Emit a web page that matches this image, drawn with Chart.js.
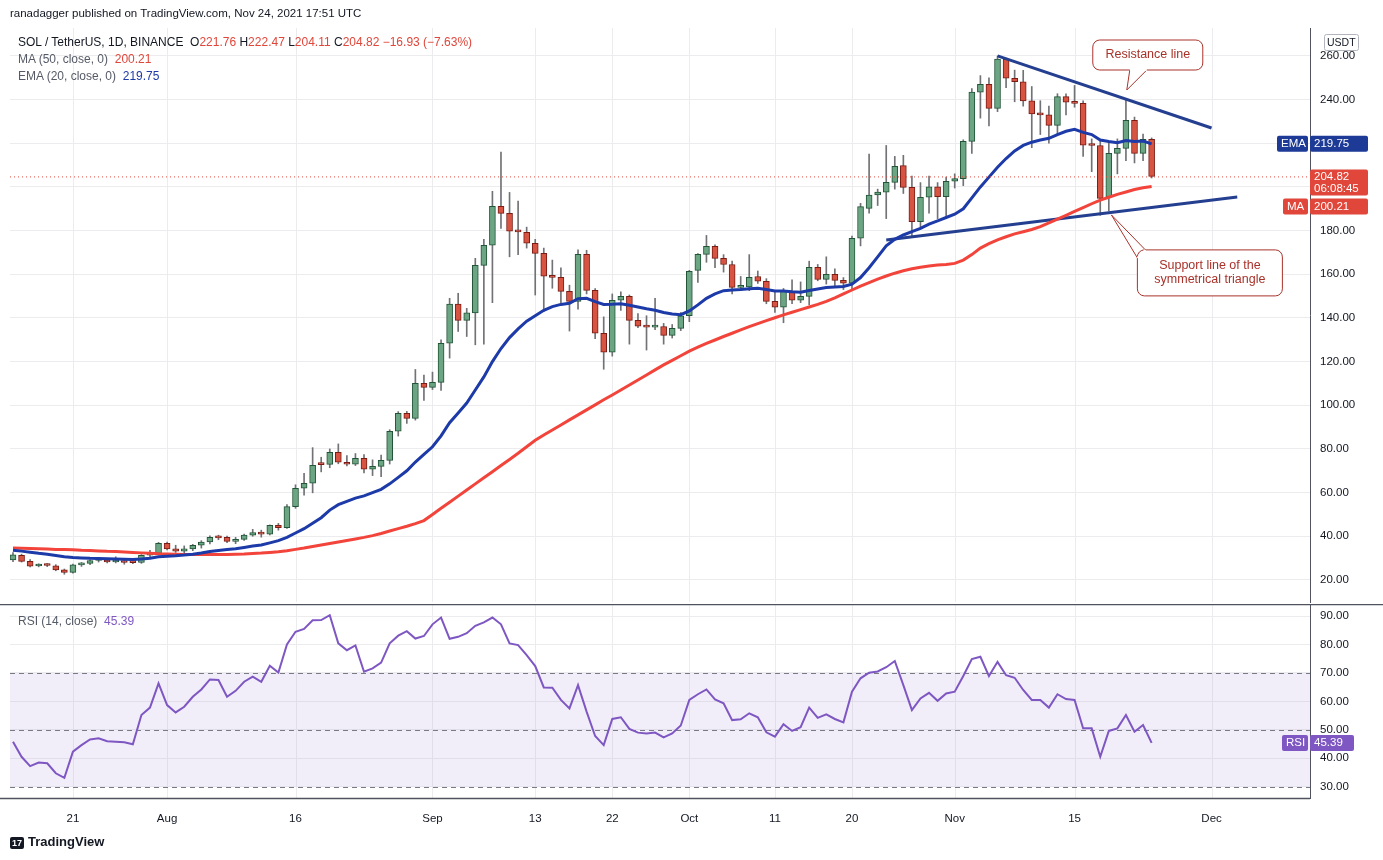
<!DOCTYPE html>
<html>
<head>
<meta charset="utf-8">
<script src="https://cdn.jsdelivr.net/npm/chart.js@4.4.0/dist/chart.umd.min.js"></script>
<style>
  body { margin: 0; background: #fff; font-family: "Liberation Sans", Arial, sans-serif; color: #131722; }
  #wrap { position: relative; width: 1383px; height: 860px; overflow: hidden; }
  canvas { position: absolute; left: 0; }
  .txt { position: absolute; font-size: 12px; white-space: nowrap; }
  .g { color: #555a66; }
  .r { color: #e0463a; }
  .b { color: #1c3aa8; }
  .p { color: #7e57c2; }
</style>
</head>
<body>
<div id="wrap">
  <canvas id="mainChart" style="top:0" width="1383" height="604"></canvas>
  <canvas id="rsiChart" style="top:604px" width="1383" height="256"></canvas>
  <div class="txt" style="left:10px;top:7px;font-size:11.5px">ranadagger published on TradingView.com, Nov 24, 2021 17:51 UTC</div>
  <div class="txt" style="left:18px;top:35px">SOL / TetherUS, 1D, BINANCE&nbsp; O<span class="r">221.76</span> H<span class="r">222.47</span> L<span class="r">204.11</span> C<span class="r">204.82</span> <span class="r">−16.93 (−7.63%)</span></div>
  <div class="txt" style="left:18px;top:52px"><span class="g">MA (50, close, 0)</span>&nbsp; <span class="r">200.21</span></div>
  <div class="txt" style="left:18px;top:69px"><span class="g">EMA (20, close, 0)</span>&nbsp; <span class="b">219.75</span></div>
  <div class="txt" style="left:18px;top:614px"><span class="g">RSI (14, close)</span>&nbsp; <span class="p">45.39</span></div>
  <div class="txt" style="left:10px;top:834px;font-size:13px;font-weight:bold"><span style="display:inline-block;background:#131722;color:#fff;font-size:9px;padding:1px 2px;border-radius:2px;margin-right:4px">17</span>TradingView</div>
</div>
<script>
// daily candles SOL/USDT, Jul 14 - Nov 24 2021
const opens = [29.2,31.3,28.5,26.4,26.7,26.5,24.6,23.5,26.9,27.6,28.9,29.0,28.2,28.3,28.0,28.0,31.3,32.2,
  36.8,34.2,33.2,34.2,35.9,37.4,39.6,39.5,37.7,38.6,40.5,41.7,41.0,45.0,44.0,53.6,62.0,64.3,73.0,72.9,78.5,73.9,73.0,75.7,70.7,72.0,74.8,88.1,96.3,94.0,110.0,
  108.2,110.5,128.4,146.4,138.9,142.3,164.1,173.3,191.1,187.9,179.7,179.2,174.2,169.6,158.9,158.6,152.2,147.6,169.1,152.6,133.0,124.3,148.1,149.9,138.9,136.2,135.8,136.1,132.0,135.2,
  141.0,161.8,169.1,172.8,167.3,164.5,154.0,154.2,159.0,156.8,147.6,144.9,152.2,148.1,149.9,163.2,157.7,160.0,157.2,155.9,176.5,190.2,196.3,197.6,202.1,209.8,199.8,184.1,195.3,200.1,195.6,
  202.6,203.8,220.9,243.4,247.0,236.0,258.6,249.8,248.2,239.4,233.2,233.0,228.2,241.4,238.8,238.3,219.1,219.0,195.4,215.4,217.7,230.5,215.4,221.76];
const highs = [32.5,31.8,29.3,27.4,27.5,27.0,25.0,27.3,28.0,29.2,29.6,29.4,30.6,28.9,29.0,31.6,33.6,37.2,
  37.4,35.9,35.6,36.3,38.0,40.2,40.5,40.1,39.5,41.0,43.2,42.8,45.2,45.9,54.5,63.6,68.8,80.6,76.2,80.0,82.3,77.0,77.9,77.4,75.0,77.2,88.8,97.1,97.2,116.4,113.8,
  115.2,130.0,149.0,151.3,144.4,167.3,176.0,198.0,216.0,197.5,193.5,181.6,176.0,172.0,166.5,163.0,155.0,171.2,171.0,153.5,140.5,151.0,152.0,150.5,142.0,141.0,149.0,137.5,137.0,142.5,
  161.8,169.5,177.8,173.5,169.0,166.0,159.0,169.0,161.5,158.0,152.0,153.5,157.5,156.5,166.0,164.5,168.0,162.5,158.5,177.5,192.5,215.0,199.0,219.0,214.0,214.5,205.0,202.0,205.0,202.0,204.5,
  206.0,221.6,245.0,251.0,250.0,259.9,259.0,253.5,253.4,246.0,239.5,237.0,242.7,242.7,246.5,239.4,222.0,221.5,220.5,222.0,240.6,232.0,224.2,222.47];
const lows = [28.4,28.2,26.0,26.0,26.1,24.2,22.6,23.1,26.2,27.0,28.2,27.8,27.8,27.2,27.4,27.6,30.7,31.8,
  33.8,32.6,32.4,33.4,34.6,36.5,38.4,37.1,36.6,38.1,40.0,39.6,40.6,42.8,43.6,52.8,58.8,59.9,69.5,71.4,73.2,72.2,72.4,69.0,67.8,67.3,73.1,85.9,91.7,93.2,102.2,
  107.2,106.8,121.6,133.8,131.5,127.7,128.0,147.0,181.0,168.0,169.0,172.0,150.5,143.0,153.6,147.0,134.0,144.0,151.0,130.5,116.5,122.5,143.5,128.0,135.5,125.3,134.6,128.0,130.8,134.2,
  138.3,156.3,165.5,163.0,161.0,151.0,153.0,152.5,155.8,146.5,142.5,137.8,146.5,147.0,146.0,157.0,155.5,154.0,153.0,153.0,173.0,188.0,191.5,185.5,199.0,197.0,177.0,181.0,188.0,185.5,185.5,
  199.5,200.6,215.3,231.5,228.0,234.5,245.5,239.0,237.0,218.0,224.0,220.0,224.0,233.0,236.5,214.0,207.0,187.0,189.0,206.0,212.0,211.0,212.0,204.11];
const closes = [31.5,28.5,26.3,26.7,26.6,24.6,23.5,26.9,27.6,28.9,29.0,28.2,28.3,28.0,27.9,31.3,32.2,36.8,
  34.2,33.2,34.2,35.9,37.4,39.5,39.3,37.7,38.6,40.5,41.7,41.0,45.0,44.0,53.6,62.0,64.3,72.5,72.8,78.5,73.9,73.0,75.7,70.7,72.0,74.8,88.1,96.3,94.0,110.0,108.2,
  110.5,128.4,146.4,138.9,142.3,164.1,173.3,191.1,187.9,179.8,179.4,174.2,169.6,159.1,158.6,152.2,147.6,169.1,152.6,133.0,124.3,148.1,149.9,138.9,136.2,135.8,136.1,132.0,135.2,141.0,
  161.3,169.1,172.8,167.3,164.5,154.0,154.2,158.6,156.8,147.6,144.9,152.2,148.1,149.9,163.2,157.7,160.0,157.2,155.9,176.5,191.0,196.3,197.6,202.1,209.5,199.8,184.1,195.3,200.1,195.6,202.6,
  203.8,220.9,243.4,247.0,236.0,258.6,249.8,248.2,239.4,233.4,233.0,228.2,241.4,238.8,238.3,219.1,219.0,194.8,215.4,217.7,230.5,215.4,221.8,204.82];
const ma50 = [34.6,34.5,34.4,34.3,34.2,34.0,33.9,33.8,33.6,33.5,33.3,33.1,33.0,32.8,32.6,32.4,32.2,32.0,
  31.9,31.8,31.7,31.6,31.6,31.6,31.6,31.7,31.8,31.9,32.1,32.3,32.6,32.9,33.4,34.0,34.6,35.3,36.0,36.7,37.4,38.1,38.8,39.5,40.3,41.3,42.4,43.5,44.6,45.8,47.2,
  50.0,52.8,55.6,58.4,61.2,64.0,66.8,69.6,72.4,75.2,78.0,81.0,84.0,86.4,88.7,91.0,93.3,95.6,97.9,100.2,102.5,104.7,107.0,109.3,111.6,113.9,116.2,118.5,120.6,122.7,
  124.8,126.6,128.3,129.9,131.5,133.0,134.5,136.0,137.4,138.8,140.1,141.4,142.6,143.8,145.0,146.2,147.6,149.2,151.0,152.8,154.6,156.2,157.8,159.2,160.5,161.6,162.5,163.2,163.8,164.2,164.5,
  165.0,166.5,169.0,172.0,174.0,175.8,177.2,178.5,179.5,180.5,181.8,183.5,185.3,187.0,188.8,190.5,192.3,194.0,195.3,196.6,197.7,198.8,199.6,200.21];
const ema20 = [33.6,33.2,32.7,32.2,31.8,31.2,30.6,30.3,30.1,29.9,29.8,29.7,29.6,29.5,29.4,29.6,29.9,30.6,
  30.9,31.1,31.4,31.8,32.3,33.0,33.5,33.9,34.3,34.9,35.5,36.0,37.0,38.0,39.5,41.5,43.5,46.0,48.5,52.0,54.5,56.0,57.5,58.5,60.0,61.5,64.0,67.0,70.0,74.0,77.5,
  81.0,86.0,92.0,96.5,101.0,107.0,113.0,120.0,126.0,131.0,135.0,138.5,141.0,143.5,145.2,146.2,146.7,148.8,149.0,147.5,146.2,146.3,146.5,145.8,145.0,144.2,143.5,142.5,141.8,141.5,
  143.2,146.0,149.0,151.0,152.5,152.8,153.0,153.4,153.6,153.0,152.3,152.3,152.0,151.8,152.6,153.3,153.9,154.2,154.4,155.5,158.5,163.0,168.0,173.0,176.0,178.0,179.5,181.0,183.0,184.5,186.0,
  187.5,190.0,195.0,200.0,204.5,209.0,213.0,216.5,219.0,220.5,221.5,222.3,224.0,225.5,226.4,225.0,224.0,221.5,220.8,220.3,221.3,220.8,221.0,219.75];
const rsi = [45.8,40.5,37.2,38.5,38.2,34.7,33.1,42.3,44.6,46.6,47,46,45.8,45.6,44.9,55.2,57.8,66.3,
  58.7,56.1,58.1,61.6,64.2,67.7,67.5,61.6,63.7,66.9,68.7,66.9,72.5,70.1,80,84.5,85.5,88.5,88.6,90.3,80.4,78,79.7,70.4,71.6,73.6,80.4,83.1,84.7,82.1,83,
  87.1,89.5,82,82.7,84,86.6,87.8,89.5,87.1,80.4,79.8,76.3,72.4,64.9,64.8,60.5,57.5,65.7,56.4,47.8,44.6,53.8,54.4,50.3,49,48.7,49,47.3,48.7,51.5,
  60.5,62.5,64.2,60.7,59.3,53.4,53.7,55.8,54.4,49.1,47.6,52,49.6,50.9,57.8,54.2,55.4,53.8,52.6,63.4,68.1,70.1,70.5,72,74.2,65.7,56.9,61,63,60.2,62.8,
  63.4,68.9,74.9,75.7,68.9,73.9,69.2,68.3,64,60.5,60.5,57.8,62.5,60.8,60.5,50.5,50.5,40.5,49.6,50.5,55.2,49.3,51.7,45.39];

// drawn trend lines (day index, price)
const resistX = [115, 140], resistY = [260, 227];
const supportX = [102, 143], supportY = [175.7, 195.4];

// axis ticks
const priceTicks = [20, 40, 60, 80, 100, 120, 140, 160, 180, 200, 220, 240, 260];
const rsiTicks = [30, 40, 50, 60, 70, 80, 90];
const tickIdx = [7, 18, 33, 49, 61, 70, 79, 89, 98, 110, 124, 140];
const tickText = ['21', 'Aug', '16', 'Sep', '13', '22', 'Oct', '11', '20', 'Nov', '15', 'Dec'];

const X_MIN = -0.35, X_MAX = 151.5;
const UP = '#6ba583', UP_B = '#225437', DN = '#d75442', DN_B = '#7a1c14';
const GRID = '#ececee';
const FONT = '"Liberation Sans", Arial, sans-serif';
const up = closes.map((c, i) => c >= opens[i]);

function xScale(showTicks) {
  return {
    type: 'linear', min: X_MIN, max: X_MAX, offset: false,
    afterBuildTicks: s => { s.ticks = tickIdx.map(v => ({ value: v })); },
    afterFit: s => { s.height = showTicks ? 26 : 0; s.paddingLeft = 0; s.paddingRight = 0; },
    ticks: { display: showTicks, color: '#131722', font: { size: 11.5, family: FONT }, padding: 6,
      callback: v => tickText[tickIdx.indexOf(v)] },
    grid: { display: false },
    border: { display: false }
  };
}
function yScale(min, max, ticks) {
  return {
    position: 'right', min: min, max: max,
    afterBuildTicks: s => { s.ticks = ticks.map(v => ({ value: v })); },
    afterFit: s => { s.width = 73; s.paddingTop = 0; s.paddingBottom = 0; },
    ticks: { color: '#131722', font: { size: 11.5, family: FONT }, padding: 10, callback: v => v.toFixed(2) },
    grid: { color: GRID, drawTicks: false },
    border: { color: '#50535e' }
  };
}
// vertical grid lines at the date ticks, drawn for both panes
const vGrid = {
  id: 'vGrid',
  beforeDatasetsDraw(chart) {
    const { ctx, chartArea: a, scales: { x } } = chart;
    ctx.save(); ctx.strokeStyle = GRID; ctx.lineWidth = 1;
    tickIdx.forEach(i => {
      const px = Math.round(x.getPixelForValue(i)) + 0.5;
      ctx.beginPath(); ctx.moveTo(px, a.top); ctx.lineTo(px, a.bottom); ctx.stroke();
    });
    ctx.restore();
  }
};
function rr(ctx, x, y, w, h, r) {
  ctx.beginPath(); ctx.roundRect(x, y, w, h, r);
}
function badge(ctx, x, y, w, h, bg, text, fg, lines) {
  ctx.fillStyle = bg; rr(ctx, x, y, w, h, 2); ctx.fill();
  ctx.fillStyle = fg; ctx.font = '11.5px ' + FONT; ctx.textBaseline = 'middle'; ctx.textAlign = 'left';
  (lines || [text]).forEach((t, k, arr) => ctx.fillText(t, x + 4, y + h / 2 + (k - (arr.length - 1) / 2) * 12));
}

const mainOverlay = {
  id: 'mainOverlay',
  afterDraw(chart) {
    const { ctx, chartArea: a, scales: { x, y } } = chart;
    const last = closes.length - 1;
    ctx.save();
    // last price dotted line
    const py = y.getPixelForValue(closes[last]);
    ctx.strokeStyle = '#e0463a'; ctx.setLineDash([1, 3]); ctx.lineWidth = 1;
    ctx.beginPath(); ctx.moveTo(a.left, py + 0.5); ctx.lineTo(a.right, py + 0.5); ctx.stroke();
    ctx.setLineDash([]);
    // callouts
    const callout = (tipI, tipV, bx, by, bw, bh, b1, b2, lines) => {
      const tx = x.getPixelForValue(tipI), ty = y.getPixelForValue(tipV);
      ctx.fillStyle = '#fff'; ctx.strokeStyle = '#a8322a'; ctx.lineWidth = 1;
      ctx.beginPath(); ctx.roundRect(tx + bx, ty + by, bw, bh, 7);
      ctx.fill(); ctx.stroke();
      ctx.beginPath(); ctx.moveTo(b1[0] + tx, b1[1] + ty); ctx.lineTo(tx, ty); ctx.lineTo(b2[0] + tx, b2[1] + ty); ctx.stroke();
      ctx.beginPath(); ctx.moveTo(b1[0] + tx, b1[1] + ty); ctx.lineTo(b2[0] + tx, b2[1] + ty);
      ctx.strokeStyle = '#fff'; ctx.lineWidth = 2; ctx.stroke();
      ctx.fillStyle = '#a8322a'; ctx.font = '12.5px ' + FONT; ctx.textAlign = 'center'; ctx.textBaseline = 'middle';
      lines.forEach((t, k) => ctx.fillText(t, tx + bx + bw / 2, ty + by + bh / 2 + (k - (lines.length - 1) / 2) * 14));
    };
    callout(130.1, 244.4, -34, -50, 110, 30, [3, -20], [20, -20], ['Resistance line']);
    callout(128.3, 187.2, 26, 35, 145, 46, [26, 43], [34, 35], ['Support line of the', 'symmetrical triangle']);
    // right axis badges
    ctx.fillStyle = '#fff'; ctx.strokeStyle = '#b2b5be'; ctx.lineWidth = 1;
    rr(ctx, a.right + 14.5, 34.5, 34, 16, 2); ctx.stroke();
    ctx.fillStyle = '#131722'; ctx.font = '10.5px ' + FONT; ctx.textAlign = 'left'; ctx.textBaseline = 'middle';
    ctx.fillText('USDT', a.right + 17, 43);
    const ey = y.getPixelForValue(ema20[last]);
    badge(ctx, a.right - 33, ey - 8, 31, 16, '#1c3a96', 'EMA', '#fff');
    badge(ctx, a.right, ey - 8, 58, 16, '#1c3a96', ema20[last].toFixed(2), '#fff');
    badge(ctx, a.right, py - 7, 58, 26, '#e0463a', '', '#fff', [closes[last].toFixed(2), '06:08:45']);
    // MA label pushed below the last-price label, like the reference
    const my = Math.max(y.getPixelForValue(ma50[last]) - 8, py + 22);
    badge(ctx, a.right - 27, my, 25, 16, '#e0463a', 'MA', '#fff');
    badge(ctx, a.right, my, 58, 16, '#e0463a', ma50[last].toFixed(2), '#fff');
    ctx.restore();
  }
};

const rsiOverlay = {
  id: 'rsiOverlay',
  beforeDatasetsDraw(chart) {
    const { ctx, chartArea: a, scales: { y } } = chart;
    ctx.save();
    const t = y.getPixelForValue(70), b = y.getPixelForValue(30);
    ctx.fillStyle = 'rgba(126,87,194,0.1)';
    ctx.fillRect(a.left, t, a.right - a.left, b - t);
    ctx.strokeStyle = '#787b86'; ctx.setLineDash([5, 4]); ctx.lineWidth = 1;
    [70, 50, 30].forEach(v => {
      const yy = Math.round(y.getPixelForValue(v)) + 0.5;
      ctx.beginPath(); ctx.moveTo(a.left, yy); ctx.lineTo(a.right, yy); ctx.stroke();
    });
    ctx.restore();
  },
  afterDraw(chart) {
    const { ctx, chartArea: a, scales: { y } } = chart;
    ctx.save();
    ctx.strokeStyle = '#50535e'; ctx.lineWidth = 1.5;
    ctx.beginPath(); ctx.moveTo(0, 0.5); ctx.lineTo(a.right + 73, 0.5); ctx.stroke();
    ctx.beginPath(); ctx.moveTo(0, a.bottom + 0.5); ctx.lineTo(a.right, a.bottom + 0.5); ctx.stroke();
    const ry = y.getPixelForValue(rsi[rsi.length - 1]);
    badge(ctx, a.right - 28, ry - 8, 26, 16, '#7e57c2', 'RSI', '#fff');
    badge(ctx, a.right, ry - 8, 44, 16, '#7e57c2', rsi[rsi.length - 1].toFixed(2), '#fff');
    ctx.restore();
  }
};

const pts = arr => arr.map((v, i) => ({ x: i, y: v }));
const pair = (xs, ys) => xs.map((v, i) => ({ x: v, y: ys[i] }));

new Chart(document.getElementById('mainChart'), {
  data: {
    datasets: [
      { type: 'line', data: pts(ema20), borderColor: '#1c3aa8', borderWidth: 3, pointRadius: 0, order: 0 },
      { type: 'line', data: pts(ma50), borderColor: '#f2443a', borderWidth: 3, pointRadius: 0, order: 0 },
      { type: 'line', data: pair(resistX, resistY), borderColor: '#243f8f', borderWidth: 3, pointRadius: 0, order: 0 },
      { type: 'line', data: pair(supportX, supportY), borderColor: '#243f8f', borderWidth: 3, pointRadius: 0, order: 0 },
      { type: 'bar', data: opens.map((o, i) => ({ x: i, y: [o, closes[i]] })),
        backgroundColor: up.map(u => u ? UP : DN), borderColor: up.map(u => u ? UP_B : DN_B),
        borderWidth: 1, borderSkipped: false, barThickness: 6, minBarLength: 2, grouped: false, order: 1 },
      { type: 'bar', data: lows.map((l, i) => ({ x: i, y: [l, highs[i]] })),
        backgroundColor: '#707276', barThickness: 1, grouped: false, order: 2 }
    ]
  },
  options: {
    responsive: false, animation: false,
    layout: { padding: { left: 10, top: 28, bottom: 2, right: 0 } },
    plugins: { legend: { display: false }, tooltip: { enabled: false } },
    scales: { x: xScale(false), y: yScale(9.9, 272.8, priceTicks) }
  },
  plugins: [vGrid, mainOverlay]
});

new Chart(document.getElementById('rsiChart'), {
  type: 'line',
  data: { datasets: [{ data: pts(rsi), borderColor: '#7e57c2', borderWidth: 2, pointRadius: 0 }] },
  options: {
    responsive: false, animation: false,
    layout: { padding: { left: 10, top: 1, bottom: 36, right: 0 } },
    plugins: { legend: { display: false }, tooltip: { enabled: false } },
    scales: { x: xScale(true), y: yScale(26, 93.9, rsiTicks) }
  },
  plugins: [vGrid, rsiOverlay]
});
</script>
</body>
</html>
